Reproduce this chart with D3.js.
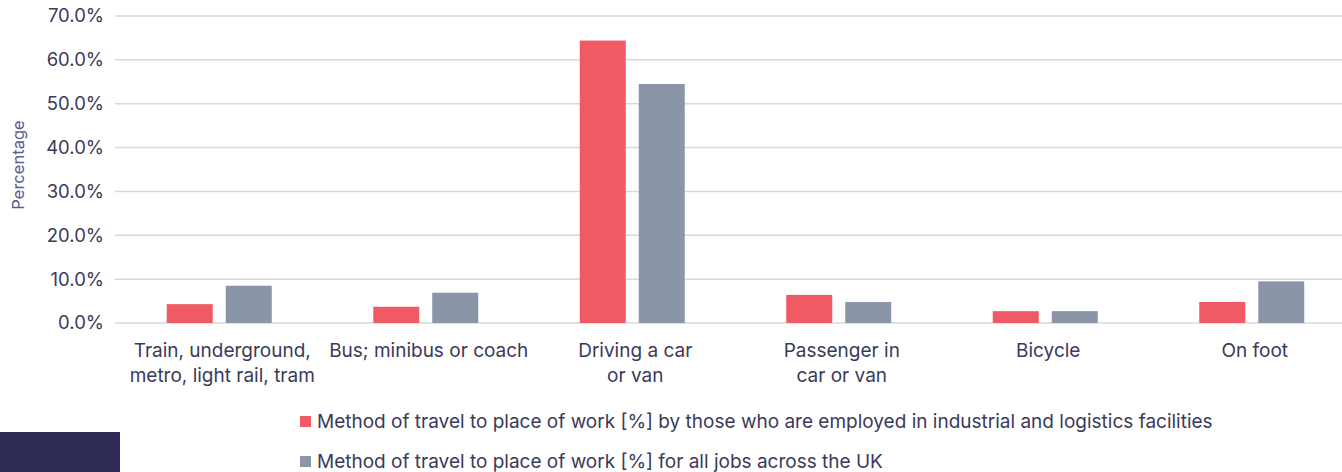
<!DOCTYPE html>
<html>
<head>
<meta charset="utf-8">
<title>Method of travel to place of work</title>
<script src="https://cdn.jsdelivr.net/npm/d3@7"></script>
<style>
  html, body { margin: 0; padding: 0; background: #fff; overflow: hidden; }
  body { font-family: "Inter", "Open Sans", sans-serif; }
  .grid line { stroke: #d9d9d9; stroke-width: 1.5; }
  .tick-label { fill: #3a3a5a; font-size: 18.5px; }
  .cat-label { fill: #3a3a5a; font-size: 19px; }
  .legend text { fill: #3a3a5a; font-size: 19px; }
</style>
</head>
<body>
<svg width="1342" height="472"></svg>
<script>
var categories = [
  ["Train, underground,", "metro, light rail, tram"],
  ["Bus; minibus or coach"],
  ["Driving a car", "or van"],
  ["Passenger in", "car or van"],
  ["Bicycle"],
  ["On foot"]
];
var industrial = [4.3, 3.7, 64.4, 6.4, 2.7, 4.8];
var allJobs = [8.5, 6.9, 54.5, 4.8, 2.7, 9.5];
var yTicks = [0, 10, 20, 30, 40, 50, 60, 70];
var seriesNames = [
  "Method of travel to place of work [%] by those who are employed in industrial and logistics facilities",
  "Method of travel to place of work [%] for all jobs across the UK"
];
var colors = ["#f05a64", "#8a96a8"];

var svg = d3.select("svg");

var x = d3.scaleBand().domain(d3.range(categories.length)).range([116, 1355]);
var y = d3.scaleLinear().domain([0, 70]).range([323, 16]);

// gridlines
svg.append("g").attr("class", "grid")
  .selectAll("line").data(yTicks).enter().append("line")
    .attr("x1", 115).attr("x2", 1342)
    .attr("y1", function(d) { return y(d); })
    .attr("y2", function(d) { return y(d); });

svg.append("g").selectAll("text").data(yTicks).enter().append("text")
    .attr("class", "tick-label")
    .attr("x", 104)
    .attr("y", function(d) { return y(d); })
    .attr("dy", "0.35em")
    .attr("text-anchor", "end")
    .text(function(d) { return d.toFixed(1) + "%"; });

svg.append("text")
    .attr("transform", "translate(24,165) rotate(-90)")
    .attr("text-anchor", "middle")
    .attr("fill", "#5c5c8a")
    .style("font-size", "16.5px")
    .text("Percentage");

var barW = 46, gap = 13;
var groups = svg.append("g").selectAll("g").data(categories).enter().append("g");

groups.append("rect")
    .attr("x", function(d, i) { return x(i) + x.bandwidth() / 2 - gap / 2 - barW; })
    .attr("width", barW)
    .attr("y", function(d, i) { return y(industrial[i]); })
    .attr("height", function(d, i) { return y(0) - y(industrial[i]); })
    .attr("fill", colors[0]);

groups.append("rect")
    .attr("x", function(d, i) { return x(i) + x.bandwidth() / 2 + gap / 2; })
    .attr("width", barW)
    .attr("y", function(d, i) { return y(allJobs[i]); })
    .attr("height", function(d, i) { return y(0) - y(allJobs[i]); })
    .attr("fill", colors[1]);

groups.append("text")
    .attr("class", "cat-label")
    .attr("text-anchor", "middle")
    .attr("x", function(d, i) { return x(i) + x.bandwidth() / 2 + 3; })
    .attr("y", 357)
    .selectAll("tspan").data(function(d) { return d; }).enter().append("tspan")
      .attr("x", function() { return d3.select(this.parentNode).attr("x"); })
      .attr("dy", function(d, i) { return i ? 25 : 0; })
      .text(function(d) { return d; });

// legend
var legend = svg.append("g").attr("class", "legend")
  .selectAll("g").data(seriesNames).enter().append("g")
    .attr("transform", function(d, i) { return "translate(300," + (421 + i * 40) + ")"; });
legend.append("rect").attr("x", 0).attr("y", -5).attr("width", 11).attr("height", 11)
    .attr("fill", function(d, i) { return colors[i]; });
legend.append("text").attr("x", 17).attr("dy", "0.35em").text(function(d) { return d; });

// dark block bottom-left
svg.append("rect").attr("x", 0).attr("y", 432).attr("width", 120).attr("height", 40).attr("fill", "#2f2d58");
</script>
</body>
</html>
